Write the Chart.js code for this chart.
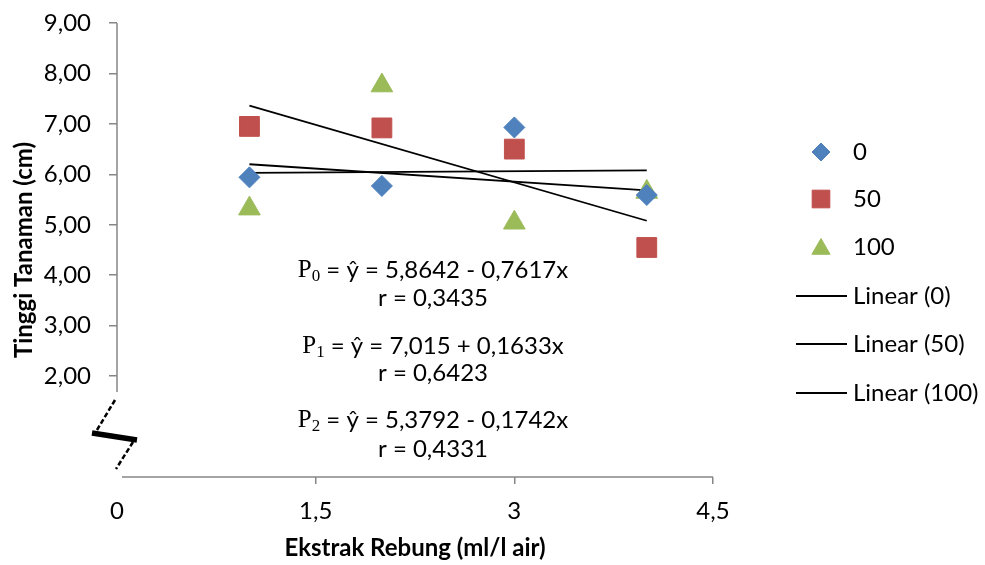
<!DOCTYPE html>
<html>
<head>
<meta charset="utf-8">
<script src="https://cdn.jsdelivr.net/npm/chart.js@4.4.1/dist/chart.umd.min.js"></script>
<style>
  html, body { margin: 0; padding: 0; background: #ffffff; }
  #wrap { width: 985px; height: 565px; position: relative; }
</style>
</head>
<body>
<div id="wrap"><canvas id="c" width="985" height="565"></canvas></div>
<script>
// ---- data ----
const xValues = [1, 2, 3, 4];
const series0 = [5.94, 5.77, 6.93, 5.59];     // 0
const series50 = [6.95, 6.92, 6.50, 4.55];    // 50
const series100 = [5.32, 7.76, 5.04, 5.65];   // 100
const trendX = [1, 4];
const trend0 = [6.03, 6.08];                  // Linear (0)
const trend50 = [7.36, 5.08];                 // Linear (50)
const trend100 = [6.20, 5.68];                // Linear (100)
const seriesNames = ['0', '50', '100'];
const trendNames = ['Linear (0)', 'Linear (50)', 'Linear (100)'];
const xTicks = [0, 1.5, 3, 4.5];
const yTickMin = 2;
const equations = [
  { p: 'P', sub: '0', eq: ' = ŷ = 5,8642 - 0,7617x', r: 'r = 0,3435' },
  { p: 'P', sub: '1', eq: ' = ŷ = 7,015 + 0,1633x', r: 'r = 0,6423' },
  { p: 'P', sub: '2', eq: ' = ŷ = 5,3792 - 0,1742x', r: 'r = 0,4331' }
];

const colors = ['#4F81BD', '#C0504D', '#9BBB59'];
const styles = ['rectRot', 'rect', 'triangle'];
const radii = [10.5, 14, 12.5];
const FONT = 'Lato';
const AXIS = '#868686';

function pts(xs, ys) { return xs.map((x, i) => ({ x: x, y: ys[i] })); }

const pointSets = [series0, series50, series100];
const trendSets = [trend0, trend50, trend100];

const datasets = [];
pointSets.forEach((s, i) => {
  datasets.push({
    label: seriesNames[i],
    data: pts(xValues, s),
    showLine: false,
    pointStyle: styles[i],
    pointRadius: radii[i],
    pointHoverRadius: radii[i],
    backgroundColor: colors[i],
    borderColor: colors[i],
    pointBorderWidth: 1
  });
});
trendSets.forEach((s, i) => {
  datasets.push({
    label: trendNames[i],
    data: pts(trendX, s),
    showLine: true,
    pointRadius: 0,
    borderColor: '#000000',
    borderWidth: 1.8,
    fill: false
  });
});

const fmt = v => String(v).replace('.', ',');

const decorPlugin = {
  id: 'decor',
  afterDraw(chart) {
    const ctx = chart.ctx;
    const xs = chart.scales.x, ys = chart.scales.y;
    const ox = xs.getPixelForValue(0), oy = ys.getPixelForValue(0);
    ctx.save();
    // axis lines
    ctx.strokeStyle = AXIS;
    ctx.lineWidth = 1.5;
    ctx.beginPath();
    ctx.moveTo(ox, ys.getPixelForValue(9));
    ctx.lineTo(ox, oy - 85);
    ctx.moveTo(ox + 5, oy);
    ctx.lineTo(xs.getPixelForValue(4.5), oy);
    ctx.stroke();
    // axis break symbol
    ctx.strokeStyle = '#000';
    ctx.lineWidth = 2.5;
    ctx.setLineDash([5, 2.5]);
    ctx.beginPath();
    ctx.moveTo(ox - 2, oy - 77); ctx.lineTo(ox - 20, oy - 47);
    ctx.moveTo(ox + 16, oy - 35); ctx.lineTo(ox - 1, oy - 8);
    ctx.stroke();
    ctx.setLineDash([]);
    ctx.lineWidth = 5.5;
    ctx.beginPath();
    ctx.moveTo(ox - 25, oy - 44); ctx.lineTo(ox + 20, oy - 37);
    ctx.stroke();

    // equations
    const cx = 433;
    const rows = [270, 298, 346, 373, 420, 449];
    equations.forEach((e, i) => {
      const yP = rows[i * 2], yR = rows[i * 2 + 1];
      ctx.textBaseline = 'middle';
      const fP = '25px "Liberation Serif"';
      const fS = '17px "Liberation Serif"';
      const fT = '24px ' + FONT;
      ctx.font = fP; const wP = ctx.measureText(e.p).width;
      ctx.font = fS; const wS = ctx.measureText(e.sub).width;
      ctx.font = fT; const wT = ctx.measureText(e.eq).width;
      let x = cx - (wP + wS + wT) / 2;
      ctx.fillStyle = '#000';
      ctx.textAlign = 'left';
      ctx.font = fP; ctx.fillText(e.p, x, yP); x += wP;
      ctx.font = fS; ctx.fillText(e.sub, x, yP + 7); x += wS;
      ctx.font = fT; ctx.fillText(e.eq, x, yP);
      ctx.textAlign = 'center';
      ctx.fillText(e.r, cx, yR);
    });

    // legend
    const lx = 821, tx = 853;
    const ly = [152, 199, 247, 296, 344, 393];
    ctx.textAlign = 'left';
    ctx.textBaseline = 'middle';
    ctx.font = '24px ' + FONT;
    seriesNames.forEach((n, i) => {
      ctx.fillStyle = colors[i];
      ctx.strokeStyle = colors[i];
      ctx.lineWidth = 1;
      Chart.helpers.drawPoint(ctx, { pointStyle: styles[i], radius: [9, 12.5, 10.5][i], borderWidth: 1, rotation: 0 }, lx, ly[i] + (i === 2 ? 2 : 0));
      ctx.fillStyle = '#000';
      ctx.fillText(n, tx, ly[i]);
    });
    trendNames.forEach((n, i) => {
      const y = ly[3 + i];
      ctx.strokeStyle = '#000';
      ctx.lineWidth = 1.8;
      ctx.beginPath();
      ctx.moveTo(796, y); ctx.lineTo(847, y);
      ctx.stroke();
      ctx.fillStyle = '#000';
      ctx.fillText(n, tx, y);
    });
    ctx.restore();
  }
};

new Chart(document.getElementById('c'), {
  type: 'scatter',
  data: { datasets: datasets },
  options: {
    responsive: false,
    animation: false,
    devicePixelRatio: 1,
    layout: { padding: { left: 0, right: 272, top: 23, bottom: 0 } },
    plugins: { legend: { display: false }, tooltip: { enabled: false } },
    scales: {
      x: {
        type: 'linear',
        min: 0, max: 4.5,
        afterBuildTicks: s => { s.ticks = xTicks.map(v => ({ value: v })); },
        afterFit: s => { s.height = 88; s.paddingLeft = 0; s.paddingRight = 0; },
        border: { display: false },
        grid: {
          drawOnChartArea: false, drawTicks: true, tickLength: 7,
          color: c => (c.tick && c.tick.value === 0) ? 'rgba(0,0,0,0)' : AXIS,
          lineWidth: 1.5
        },
        ticks: {
          font: { family: FONT, size: 24 }, color: '#000', padding: 13,
          callback: v => fmt(v)
        },
        title: {
          display: true, text: 'Ekstrak Rebung (ml/l air)',
          font: { family: FONT, size: 24, weight: 'bold' }, color: '#000',
          padding: { top: 0, bottom: 2 }
        }
      },
      y: {
        type: 'linear',
        min: 0, max: 9,
        afterFit: s => { s.width = 117; s.paddingTop = 0; s.paddingBottom = 0; },
        border: { display: false },
        grid: {
          drawOnChartArea: false, drawTicks: true, tickLength: 8,
          color: c => (c.tick && c.tick.value < yTickMin) ? 'rgba(0,0,0,0)' : AXIS,
          lineWidth: 1.5
        },
        ticks: {
          stepSize: 1,
          font: { family: FONT, size: 24 }, color: '#000', padding: 18,
          callback: v => v < yTickMin ? '' : v.toFixed(2).replace('.', ',')
        },
        title: {
          display: true, text: 'Tinggi Tanaman (cm)',
          font: { family: FONT, size: 24, weight: 'bold' }, color: '#000',
          padding: { top: 10, bottom: 0 }
        }
      }
    }
  },
  plugins: [decorPlugin]
});
</script>
</body>
</html>
